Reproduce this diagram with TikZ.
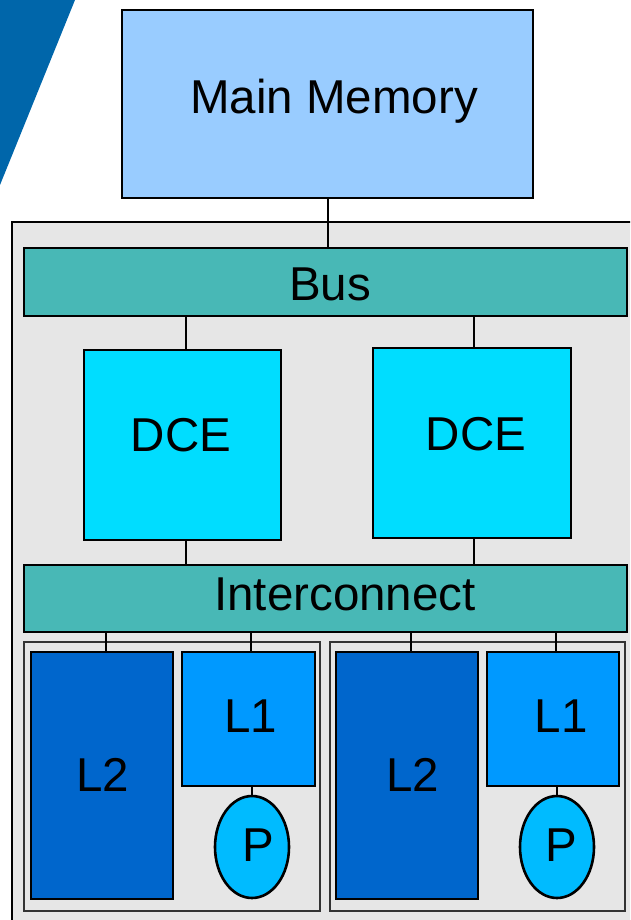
\documentclass[tikz,border=0pt]{standalone}
\usepackage{fontspec}
\setmainfont{Liberation Sans}
\usetikzlibrary{shapes.geometric}
\definecolor{memc}{HTML}{99CCFF}
\definecolor{busc}{HTML}{48B8B6}
\definecolor{dcec}{HTML}{00DDFF}
\definecolor{ltwo}{HTML}{0066CC}
\definecolor{lone}{HTML}{0099FF}
\definecolor{proc}{HTML}{00BBFF}
\definecolor{corner}{HTML}{0066AA}
\definecolor{grayc}{HTML}{E6E6E6}
\tikzset{
  box/.style={draw=black, line width=2.6pt, inner sep=0pt, anchor=center},
  grp/.style={draw=black!80, line width=1.6pt, fill=grayc, inner sep=0pt},
  txt/.style={font=\fontsize{47.5}{47.5}\selectfont, inner sep=0pt},
  wire/.style={line width=1.8pt},
}
\begin{document}
\begin{tikzpicture}[x=1pt,y=-1pt]
\useasboundingbox (0,0) rectangle (630,920);
\clip (0,0) rectangle (630,920);
% corner shape
\fill[corner] (0,0) -- (75,0) -- (0,185) -- cycle;
% outer gray frame
\draw[line width=2.6pt, fill=grayc] (12,222) rectangle (650,940);
% main memory
\node[box, fill=memc, minimum width=411pt, minimum height=188pt] (mem) at (327.5,104) {};
\node[txt] (memt) at (334,101) {Main Memory};
% bus
\node[box, fill=busc, minimum width=603pt, minimum height=68pt] (bus) at (325.5,282) {};
\node[txt] (bust) at (330,284) {Bus};
% DCEs
\node[box, fill=dcec, minimum width=197pt, minimum height=190pt] (dce1) at (182.5,445) {};
\node[txt] (dce1t) at (181,435) {DCE};
\node[box, fill=dcec, minimum width=198pt, minimum height=190pt] (dce2) at (472,443) {};
\node[txt] (dce2t) at (476,434) {DCE};
% interconnect
\node[box, fill=busc, minimum width=603pt, minimum height=67pt] (ic) at (325.5,598.5) {};
\node[txt] (ict) at (345,594) {Interconnect};
% groups
\node[grp, minimum width=296pt, minimum height=269pt] (g1) at (172,776.5) {};
\node[grp, minimum width=295pt, minimum height=269pt] (g2) at (477.5,776.5) {};
% left group
\node[box, fill=ltwo, minimum width=142pt, minimum height=247pt] (l2a) at (102,775.5) {};
\node[txt] (l2at) at (103,775) {L2};
\node[box, fill=lone, minimum width=133pt, minimum height=134pt] (l1a) at (248.5,719) {};
\node[txt] (l1at) at (251,716) {L1};
\node[box, ellipse, fill=proc, minimum width=74pt, minimum height=102pt] (pa) at (252,847) {};
\node[txt] (pat) at (258,845) {P};
% right group
\node[box, fill=ltwo, minimum width=142pt, minimum height=247pt] (l2b) at (407,775.5) {};
\node[txt] (l2bt) at (413,775) {L2};
\node[box, fill=lone, minimum width=132pt, minimum height=134pt] (l1b) at (553,719) {};
\node[txt] (l1bt) at (561,716) {L1};
\node[box, ellipse, fill=proc, minimum width=74pt, minimum height=102pt] (pb) at (557,847) {};
\node[txt] (pbt) at (561,845) {P};
% wires
\draw[wire] (mem.south -| 328,0) -- (bus.north -| 328,0);
\draw[wire] (bus.south -| 186,0) -- (dce1.north -| 186,0);
\draw[wire] (bus.south -| 474,0) -- (dce2.north -| 474,0);
\draw[wire] (dce1.south -| 186,0) -- (ic.north -| 186,0);
\draw[wire] (dce2.south -| 474,0) -- (ic.north -| 474,0);
\draw[wire] (ic.south -| 106,0) -- (l2a.north -| 106,0);
\draw[wire] (ic.south -| 251,0) -- (l1a.north -| 251,0);
\draw[wire] (ic.south -| 411,0) -- (l2b.north -| 411,0);
\draw[wire] (ic.south -| 556,0) -- (l1b.north -| 556,0);
\draw[wire] (l1a.south -| pa.north) -- (pa.north);
\draw[wire] (l1b.south -| pb.north) -- (pb.north);
\end{tikzpicture}
\end{document}
